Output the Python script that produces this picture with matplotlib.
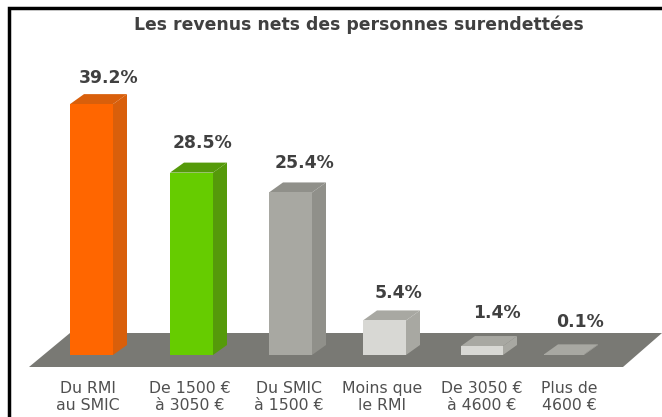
import matplotlib
matplotlib.use('Agg')
import matplotlib.pyplot as plt
from matplotlib.patches import Polygon, Rectangle

title = 'Les revenus nets des personnes surendettées'
categories = ['Du RMI\nau SMIC', 'De 1500 €\nà 3050 €', 'Du SMIC\nà 1500 €',
              'Moins que\nle RMI', 'De 3050 €\nà 4600 €', 'Plus de\n4600 €']
values = [39.2, 28.5, 25.4, 5.4, 1.4, 0.1]

front_colors = ['#ff6600', '#66cc00', '#a8a8a2', '#d8d8d4', '#d8d8d4', '#a8a8a2']
side_colors = ['#d95f0b', '#559a0a', '#90908a', '#a8a8a2', '#a8a8a2', '#a8a8a2']
top_colors = ['#d95f0b', '#559a0a', '#90908a', '#a8a8a2', '#a8a8a2', '#a8a8a2']

W, H = 662, 417
PX = 6.4  # pixels per percent
BASE = 355
bar_left = [70, 170, 269, 363, 461, 544]
bar_w = [43, 43, 43, 43, 42, 40]
value_x = [109, 203, 304, 398, 497, 580]
value_row = [78, 143, 163, 293, 313, 322]
cat_x = [88, 190, 289, 382, 482, 569]
dx, dy = 14, 10 / PX


def py(y):
    # pixel row -> data y
    return (BASE - y) / PX


fig = plt.figure(figsize=(W / 100, H / 100), dpi=100)
ax = fig.add_axes([0, 0, 1, 1])
ax.set_xlim(0, W)
ax.set_ylim(py(H), py(0))
ax.axis('off')

# frame
ax.add_patch(Rectangle((9, py(H + 5)), W + 10, py(8) - py(H + 5), fill=False, ec='black', lw=2.5))

# floor
floor = [(29, py(367)), (70, py(333)), (662, py(333)), (623, py(367))]
ax.add_patch(Polygon(floor, closed=True, fc='#797974', ec='none', zorder=1))

for i, v in enumerate(values):
    x0 = bar_left[i]
    x1 = x0 + bar_w[i]
    ax.bar(x0, v, width=bar_w[i], align='edge', color=front_colors[i], zorder=3)
    side = [(x1, 0), (x1 + dx, dy), (x1 + dx, v + dy), (x1, v)]
    top = [(x0, v), (x0 + dx, v + dy), (x1 + dx, v + dy), (x1, v)]
    ax.add_patch(Polygon(side, closed=True, fc=side_colors[i], ec='none', zorder=2))
    ax.add_patch(Polygon(top, closed=True, fc=top_colors[i], ec='none', zorder=2))
    ax.text(value_x[i], py(value_row[i]), f'{v}%', ha='center', va='center', fontsize=12.4,
            fontweight='bold', color='#404040', family='DejaVu Sans')
    ax.text(cat_x[i], py(397), categories[i], ha='center', va='center', fontsize=11.3,
            color='#505050', family='DejaVu Sans', linespacing=1.22)

ax.text(359, py(24.5), title, ha='center', va='center', fontsize=12.4, fontweight='bold',
        color='#404040', family='DejaVu Sans')

fig.savefig('out.png', dpi=100)
